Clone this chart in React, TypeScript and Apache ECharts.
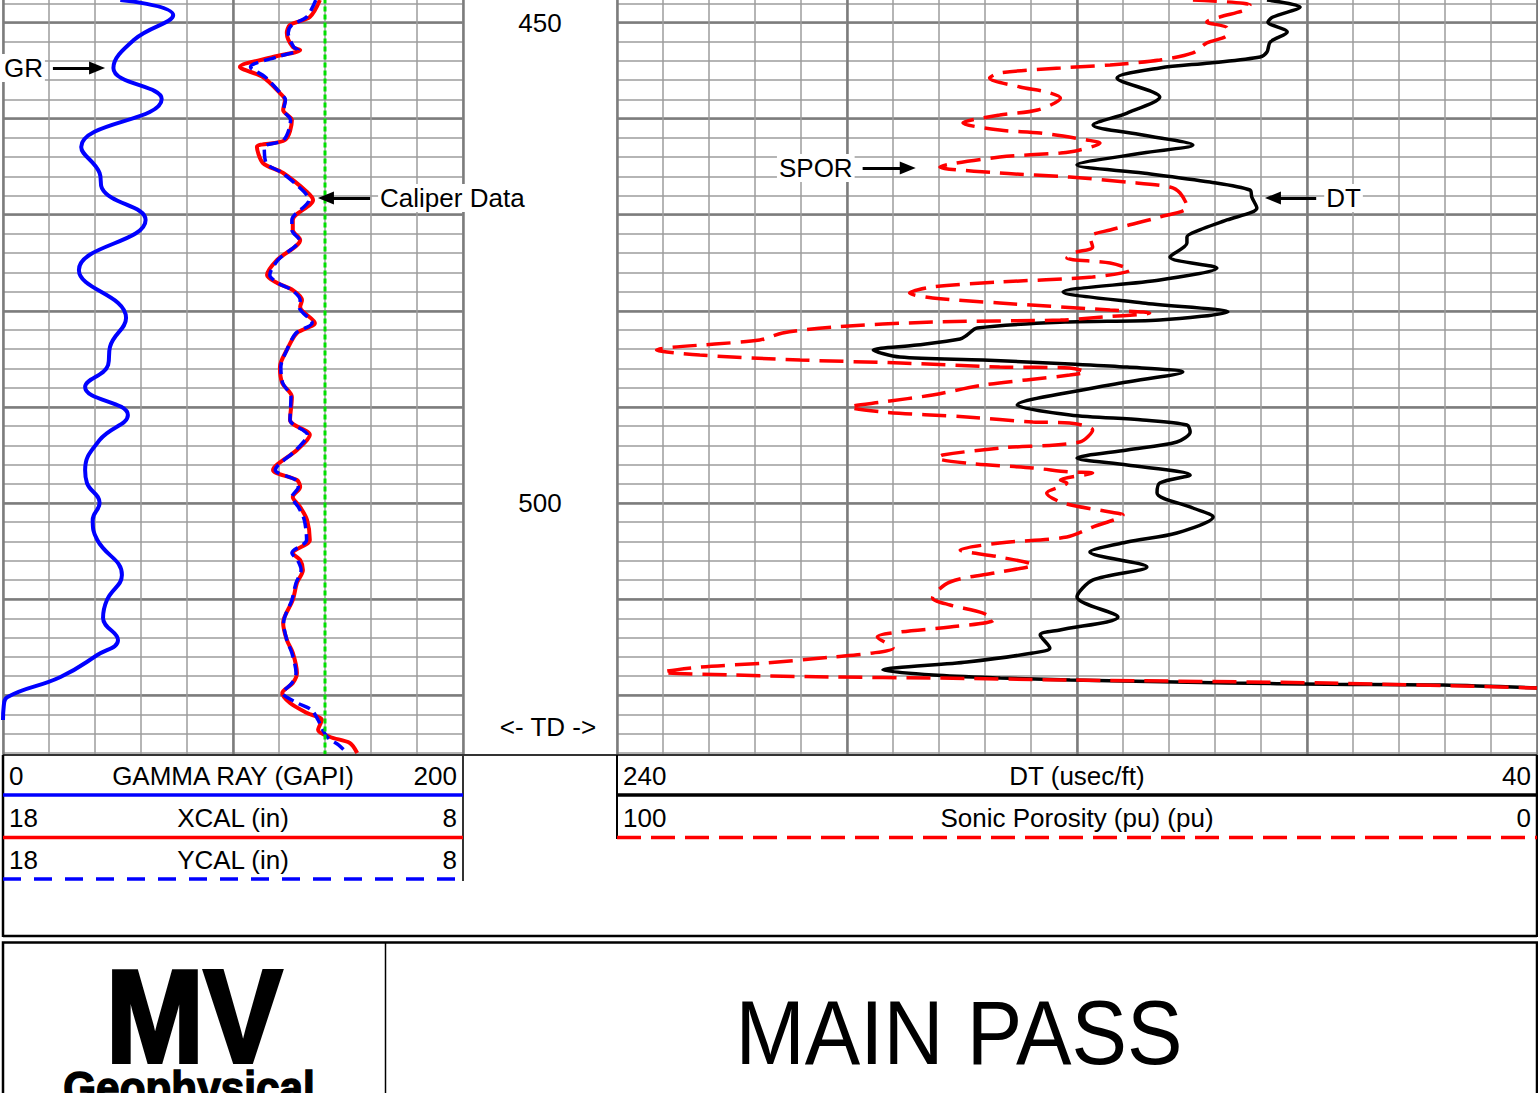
import React, { useEffect, useRef } from "react";
import * as echarts from "echarts";

const FONT = '"Liberation Sans", Arial, Helvetica, sans-serif';

// ---------- scales / ticks ----------
const depthRange = [440, 530];
const depthLabels = [450, 500];
const depthTD = 523.3;
const bitSize = 11;
const grScale = [0, 200];
const calScale = [18, 8];
const dtScale = [240, 40];
const sporScale = [100, 0];

// ---------- curves: [depth (ft), value] ----------
const grCurve = [
  [447.66, 51], [449.22, 74], [451.8, 57], [454.73, 48], [457.96, 69], [462.96, 34],
  [465.66, 42], [467.23, 43], [470.55, 62], [475.75, 33], [480.75, 53.5], [483.77, 46.5],
  [485.64, 45.7], [487.93, 35.7], [490.84, 54.3], [493.45, 42], [496.57, 35.7], [497.92, 36.5],
  [500.0, 42], [501.77, 39], [503.85, 41], [507.49, 51.7], [510.09, 45.2], [511.96, 43.5],
  [514.25, 50], [515.82, 41], [518.11, 25], [520.19, 2], [521.2, 0.3], [522.58, 0],
];

const xcalCurve = [
  [447.66, 11.11], [449.43, 11.33], [450.26, 11.76], [451.09, 11.83], [452.55, 11.7], [452.86, 11.54],
  [453.59, 12.13], [454.63, 12.85], [455.67, 12.35], [457.34, 11.98], [458.06, 11.87], [459.11, 11.91],
  [460.15, 11.72], [462.23, 11.87], [462.96, 12.48], [464.62, 12.35], [465.66, 11.91], [467.64, 11.39],
  [468.47, 11.26], [470.55, 11.7], [471.59, 11.7], [472.63, 11.54], [474.71, 12.04], [476.27, 12.26],
  [477.11, 12.04], [477.84, 11.7], [478.88, 11.5], [479.6, 11.54], [481.27, 11.22], [482.31, 11.61],
  [484.08, 11.83], [485.85, 11.98], [487.51, 11.93], [488.97, 11.72], [491.36, 11.76], [492.92, 11.33],
  [494.48, 11.61], [496.57, 12.13], [497.61, 11.61], [498.33, 11.54], [499.38, 11.7], [500.42, 11.54],
  [501.77, 11.39], [503.85, 11.33], [505.2, 11.7], [505.93, 11.54], [506.97, 11.48], [508.32, 11.61],
  [510.09, 11.7], [512.48, 11.91], [514.25, 11.83], [515.6, 11.7], [517.69, 11.61], [518.73, 11.7],
  [519.77, 11.93], [520.81, 11.76], [521.85, 11.39], [522.58, 11.07], [523.62, 11.15], [524.35, 10.89],
  [524.97, 10.46], [526.01, 10.3],
];

const ycalCurve = [
  [447.66, 11.2], [449.43, 11.4], [450.26, 11.72], [451.09, 11.8], [452.55, 11.68], [452.86, 11.58],
  [453.59, 12.05], [454.63, 12.62], [455.67, 12.3], [457.34, 11.97], [458.06, 11.86], [459.11, 11.9],
  [460.15, 11.75], [462.23, 11.9], [462.96, 12.32], [464.62, 12.28], [465.66, 11.93], [467.64, 11.45],
  [468.47, 11.35], [470.55, 11.72], [471.59, 11.72], [472.63, 11.56], [474.71, 12.02], [476.27, 12.2],
  [477.11, 12.02], [477.84, 11.72], [478.88, 11.54], [479.6, 11.56], [481.27, 11.28], [482.31, 11.63],
  [484.08, 11.83], [485.85, 11.96], [487.51, 11.92], [488.97, 11.74], [491.36, 11.76], [492.92, 11.38],
  [494.48, 11.63], [496.57, 12.08], [497.61, 11.63], [498.33, 11.58], [499.38, 11.72], [500.42, 11.58],
  [501.77, 11.45], [503.85, 11.4], [505.2, 11.72], [505.93, 11.6], [506.97, 11.52], [508.32, 11.63],
  [510.09, 11.72], [512.48, 11.9], [514.25, 11.83], [515.6, 11.72], [517.69, 11.63], [518.73, 11.72],
  [519.77, 11.92], [520.81, 11.6], [521.5, 11.3], [522.58, 11.15], [523.62, 11.05], [524.45, 10.93],
  [525.2, 10.7], [526.1, 10.5],
];

const dtCurve = [
  [447.66, 98.7], [448.39, 91.5], [449.43, 97.4], [449.95, 98.5], [450.99, 94.3], [452.03, 98.0],
  [453.07, 98.7], [453.59, 100.2], [454.21, 111.1], [454.73, 122.0], [455.78, 131.3], [457.75, 122.0],
  [459.42, 129.1], [460.67, 136.5], [461.71, 125.7], [462.75, 114.8], [463.58, 125.7], [464.83, 140.0],
  [465.66, 125.7], [466.6, 111.1], [467.43, 102.4], [468.16, 102.0], [469.3, 100.9], [470.55, 107.4],
  [471.59, 113.3], [472.32, 116.1], [472.94, 116.1], [474.4, 119.8], [475.55, 109.6], [476.79, 122.0],
  [478.04, 143.0], [479.19, 125.7], [480.12, 107.2], [480.96, 122.0], [481.17, 142.6], [481.79, 161.7],
  [482.52, 163.9], [482.93, 165.4], [483.56, 174.8], [484.08, 184.3], [484.81, 178.5], [485.12, 160.4],
  [485.54, 141.5], [485.85, 129.1], [486.37, 117.0], [487.41, 129.1], [488.03, 136.5], [489.8, 153.0],
  [490.84, 141.5], [491.36, 125.7], [491.88, 116.1], [492.61, 115.4], [493.65, 118.3], [494.48, 129.1],
  [495.32, 140.0], [496.05, 129.1], [497.09, 115.4], [497.92, 122.0], [498.96, 122.6], [500.52, 114.8],
  [501.46, 110.4], [503.12, 118.3], [504.06, 129.1], [505.1, 137.2], [506.66, 124.8], [508.01, 136.5],
  [509.78, 140.0], [511.86, 131.1], [513.21, 143.7], [513.73, 148.0], [515.08, 145.9], [515.61, 149.6],
  [516.54, 163.9], [517.38, 182.2], [517.9, 171.3], [518.21, 156.7], [518.42, 141.5], [518.73, 107.4],
  [518.85, 85.7], [518.94, 60.4], [519.25, 40],
];

const sporCurve = [
  [447.66, 37.4], [448.18, 31.2], [448.7, 31.7], [449.43, 34.5], [449.95, 35.9], [450.57, 33.7],
  [451.3, 33.7], [452.13, 35.9], [453.17, 37.4], [453.9, 41.0], [454.42, 46.4], [454.73, 51.8],
  [455.25, 58.4], [455.78, 59.5], [456.71, 56.2], [457.23, 53.3], [457.86, 51.8], [459.11, 54.3],
  [459.63, 58.4], [460.46, 62.4], [461.19, 58.4], [461.5, 54.0], [462.23, 48.9], [462.54, 47.5],
  [463.27, 49.7], [463.58, 51.8], [464.0, 58.4], [465.04, 64.9], [465.66, 58.4], [466.08, 50.8],
  [466.6, 44.6], [467.12, 39.9], [467.74, 38.8], [469.2, 38.0], [470.24, 41.0], [471.59, 46.4],
  [472.32, 48.6], [473.36, 48.3], [473.99, 50.4], [474.51, 51.1], [475.03, 46.4], [475.75, 44.2],
  [476.48, 48.3], [477.0, 58.4], [477.52, 65.7], [478.15, 68.2], [478.67, 65.7], [479.19, 58.4],
  [479.92, 46.4], [480.23, 42.1], [480.65, 47.2], [480.96, 51.8], [481.17, 65.7], [481.69, 76.5],
  [482.31, 82.0], [483.04, 84.5], [484.08, 95.7], [484.6, 91.0], [485.12, 80.1], [485.43, 69.2],
  [485.85, 58.4], [485.95, 50.8], [486.37, 49.1], [486.69, 50.8], [487.73, 60.2], [488.76, 65.7],
  [489.49, 71.1], [490.01, 74.7], [490.53, 71.1], [491.05, 62.0], [491.57, 54.8], [491.68, 50.8],
  [492.4, 48.3], [493.65, 49.7], [494.28, 58.4], [495.0, 64.6], [495.32, 65.2], [495.84, 62.0],
  [496.36, 54.8], [496.77, 50.8], [496.88, 48.3], [497.61, 51.8], [497.92, 51.1], [498.96, 53.3],
  [500.0, 51.5], [500.94, 46.4], [501.25, 45.0], [502.5, 48.3], [503.54, 51.1], [504.16, 58.4],
  [504.89, 62.7], [505.62, 58.4], [506.45, 54.8], [507.18, 58.4], [508.22, 63.8], [509.88, 65.7],
  [510.61, 63.8], [511.45, 60.2], [512.18, 59.1], [512.9, 63.8], [513.42, 69.2], [513.94, 71.7],
  [515.08, 70.0], [515.61, 72.2], [516.02, 76.5], [516.65, 83.7], [517.07, 91.0], [517.59, 95.0],
  [517.9, 87.4], [518.11, 76.5], [518.21, 65.7], [518.42, 50.8], [518.73, 22.8], [519.25, 0],
];

// ---------- annotation arrows: [label, depth, from value, to value] ----------
const grArrow = ["GR", 454.73, 21.7, 40.9];
const calArrow = ["Caliper Data", 468.26, 10.02, 10.98];
const sporArrow = ["SPOR", 465.14, 73.3, 68.4];
const dtArrow = ["DT", 468.26, 88.0, 97.4];

// ---------- header rows ----------
const leftHeader = [
  { name: "GAMMA RAY (GAPI)", lo: String(grScale[0]), hi: String(grScale[1]), color: "#0000ff", dash: null },
  { name: "XCAL (in)", lo: String(calScale[0]), hi: String(calScale[1]), color: "#ff0000", dash: null },
  { name: "YCAL (in)", lo: String(calScale[0]), hi: String(calScale[1]), color: "#0000ff", dash: [18, 13] },
];
const rightHeader = [
  { name: "DT (usec/ft)", lo: String(dtScale[0]), hi: String(dtScale[1]), color: "#000000", dash: null },
  { name: "Sonic Porosity (pu) (pu)", lo: String(sporScale[0]), hi: String(sporScale[1]), color: "#ff0000", dash: [24, 10] },
];
const passTitle = "MAIN PASS";

// ---------- layout ----------
const OFF = 90; // chart canvas starts OFF px above the page top
const Y = (y: number) => y + OFF;
const Y450 = 22.5;
const PXFT = 9.61;
const gridTop = Y(Y450 - (450 - depthRange[0]) * PXFT);
const gridH = (depthRange[1] - depthRange[0]) * PXFT;
const L = { x: 3, w: 460 };
const D = { x: 463, w: 154 };
const R = { x: 617, w: 920 };
const TB = 755;

const arrowML = (a: any[]) => ({
  silent: true,
  symbol: ["none", "triangle"],
  symbolSize: [13, 16],
  itemStyle: { color: "#000" },
  lineStyle: { color: "#000", width: 3, type: "solid" },
  label: {
    show: true,
    position: "start",
    formatter: a[0],
    color: "#000",
    fontSize: 26,
    fontFamily: FONT,
    distance: 8,
    backgroundColor: "#fff",
    padding: [1, 2],
  },
  emphasis: { disabled: true },
  data: [[{ coord: [a[2], a[1]] }, { coord: [a[3], a[1]] }]],
});

const minorStyle = { color: "#9c9c9c", width: 1.5 };
const majorStyle = { color: "#7c7c7c", width: 2.5 };

const divX = (gridIndex: number, max: number, interval: number, major: boolean) => ({
  gridIndex, type: "value", min: 0, max, interval,
  axisLine: { show: false }, axisTick: { show: false }, axisLabel: { show: false },
  splitLine: { show: true, lineStyle: major ? majorStyle : minorStyle },
});
const divY = (gridIndex: number, interval: number, major: boolean) => ({
  gridIndex, type: "value", min: depthRange[0], max: depthRange[1], interval, inverse: true,
  axisLine: { show: false }, axisTick: { show: false }, axisLabel: { show: false },
  splitLine: { show: true, lineStyle: major ? majorStyle : minorStyle },
});

const swap = (arr: number[][]) => arr.map((p) => [p[1], p[0]]);

function headerGraphics() {
  const g: any[] = [];
  const txt = (x: number, y: number, text: string, align: string, size = 26) => ({
    type: "text", x, y: Y(y), z: 110,
    style: { text, fill: "#000", fontSize: size, fontFamily: FONT, align, verticalAlign: "middle" },
  });
  const rowY = [776, 818, 860];
  const lineY = [795, 837.5, 879];
  leftHeader.forEach((h, i) => {
    g.push(txt(L.x + 6, rowY[i], h.lo, "left"));
    g.push(txt(L.x + L.w / 2, rowY[i], h.name, "center"));
    g.push(txt(L.x + L.w - 6, rowY[i], h.hi, "right"));
    g.push({ type: "line", z: 110, shape: { x1: L.x, y1: Y(lineY[i]), x2: L.x + L.w, y2: Y(lineY[i]) },
      style: { stroke: h.color, lineWidth: 3.5, lineDash: h.dash || undefined } });
  });
  rightHeader.forEach((h, i) => {
    g.push(txt(R.x + 6, rowY[i], h.lo, "left"));
    g.push(txt(R.x + R.w / 2, rowY[i], h.name, "center"));
    g.push(txt(R.x + R.w - 6, rowY[i], h.hi, "right"));
    g.push({ type: "line", z: 110, shape: { x1: R.x, y1: Y(lineY[i]), x2: R.x + R.w, y2: Y(lineY[i]) },
      style: { stroke: h.color, lineWidth: 3.5, lineDash: h.dash || undefined } });
  });
  return g;
}

const hline = (x1: number, x2: number, y: number, stroke: string, w: number) => ({
  type: "line", z: 110, shape: { x1, y1: Y(y), x2, y2: Y(y) }, style: { stroke, lineWidth: w },
});
const vline = (x: number, y1: number, y2: number, stroke: string, w: number) => ({
  type: "line", z: 110, shape: { x1: x, y1: Y(y1), x2: x, y2: Y(y2) }, style: { stroke, lineWidth: w },
});

export default function App() {
  const ref = useRef<HTMLDivElement>(null);
  useEffect(() => {
    if (!ref.current) return;
    const chart = echarts.init(ref.current, undefined, { renderer: "svg" });
    const option: any = {
      animation: false,
      backgroundColor: "#fff",
      grid: [
        { left: L.x, top: gridTop, width: L.w, height: gridH },
        { left: R.x, top: gridTop, width: R.w, height: gridH },
        { left: D.x, top: gridTop, width: D.w, height: gridH },
      ],
      xAxis: [
        divX(0, 10, 1, false),
        divX(0, 10, 5, true),
        { gridIndex: 0, type: "value", min: grScale[0], max: grScale[1], show: false },
        { gridIndex: 0, type: "value", min: calScale[1], max: calScale[0], inverse: true, show: false },
        divX(1, 20, 1, false),
        divX(1, 20, 5, true),
        { gridIndex: 1, type: "value", min: dtScale[1], max: dtScale[0], inverse: true, show: false },
        { gridIndex: 1, type: "value", min: sporScale[1], max: sporScale[0], inverse: true, show: false },
        { gridIndex: 2, type: "value", min: 0, max: 1, show: false },
      ],
      yAxis: [
        divY(0, 2, false),
        divY(0, 10, true),
        divY(1, 2, false),
        divY(1, 10, true),
        {
          gridIndex: 2, type: "value", min: depthRange[0], max: depthRange[1], interval: 10, inverse: true,
          axisLine: { show: false }, axisTick: { show: false }, splitLine: { show: false },
          axisLabel: {
            show: true, inside: true, margin: 77, align: "center", fontSize: 26, color: "#000", fontFamily: FONT,
            formatter: (v: number) => (depthLabels.includes(v) ? String(v) : ""),
          },
        },
      ],
      series: [
        {
          type: "line", name: "GR", xAxisIndex: 2, yAxisIndex: 0, data: swap(grCurve),
          showSymbol: false, symbol: "none", smooth: 0.45,
          lineStyle: { color: "#0000ff", width: 4 },
          markLine: arrowML(grArrow),
        },
        {
          type: "line", name: "XCAL", xAxisIndex: 3, yAxisIndex: 0, data: swap(xcalCurve),
          showSymbol: false, symbol: "none", smooth: 0.3,
          lineStyle: { color: "#ff0000", width: 4 },
          markLine: arrowML(calArrow),
        },
        {
          type: "line", name: "YCAL", xAxisIndex: 3, yAxisIndex: 0, data: swap(ycalCurve),
          showSymbol: false, symbol: "none", smooth: 0.3,
          lineStyle: { color: "#0000ff", width: 3.5, type: [12, 6] },
        },
        {
          type: "line", name: "BS", xAxisIndex: 3, yAxisIndex: 0,
          data: [[bitSize, depthRange[0]], [bitSize, depthRange[1]]],
          showSymbol: false, symbol: "none",
          lineStyle: { color: "#00e000", width: 3, type: [5, 3] },
        },
        {
          type: "line", name: "DT", xAxisIndex: 6, yAxisIndex: 2, data: swap(dtCurve),
          showSymbol: false, symbol: "none", smooth: 0.3,
          lineStyle: { color: "#000000", width: 3.5 },
          markLine: arrowML(dtArrow),
        },
        {
          type: "line", name: "SPOR", xAxisIndex: 7, yAxisIndex: 2, data: swap(sporCurve),
          showSymbol: false, symbol: "none", smooth: 0.3,
          lineStyle: { color: "#ff0000", width: 3.5, type: [24, 10] },
          markLine: arrowML(sporArrow),
        },
      ],
      graphic: [
        { type: "rect", z: 100, shape: { x: 0, y: Y(TB + 1), width: 1538, height: 1093 - TB + 50 }, style: { fill: "#fff" } },
        { type: "text", z: 110, x: D.x + D.w / 2 + 8, y: Y(Y450 + (depthTD - 450) * PXFT),
          style: { text: "<- TD ->", fill: "#000", fontSize: 26, fontFamily: FONT, align: "center", verticalAlign: "middle" } },
        // header frame
        hline(3, 1537, TB, "#333", 2),
        vline(3, TB, 937, "#000", 2.5),
        vline(1537, TB, 937, "#000", 2.5),
        hline(3, 1537, 936, "#000", 2.5),
        vline(463, TB, 881, "#333", 2),
        vline(617, TB, 839, "#000", 2),
        ...headerGraphics(),
        // title box
        { type: "rect", z: 110, shape: { x: 3, y: Y(942.5), width: 1534, height: 200 }, style: { fill: "none", stroke: "#000", lineWidth: 2.5 } },
        vline(385.5, 942, 1093, "#000", 1.5),
        { type: "text", z: 110, x: 194, y: Y(1016), scaleX: 0.89,
          style: { text: "MV", fill: "#000", stroke: "#000", lineWidth: 4, fontSize: 132, fontWeight: "bold", fontFamily: FONT, align: "center", verticalAlign: "middle" } },
        { type: "text", z: 110, x: 189, y: Y(1065), scaleX: 0.92,
          style: { text: "Geophysical", fill: "#000", stroke: "#000", lineWidth: 1.5, fontSize: 46, fontWeight: "bold", fontFamily: FONT, align: "center", verticalAlign: "top" } },
        { type: "text", z: 110, x: 959, y: Y(1033), scaleX: 0.925,
          style: { text: passTitle, fill: "#000", fontSize: 90, fontFamily: FONT, align: "center", verticalAlign: "middle" } },
      ],
    };
    chart.setOption(option);
    return () => chart.dispose();
  }, []);
  return (
    <div style={{ position: "absolute", left: 0, top: 0, width: 1538, height: 1093, overflow: "hidden", background: "#fff" }}>
      <div
        ref={ref}
        style={{ position: "absolute", left: 0, top: -OFF, width: 1538, height: 1093 + OFF }}
      />
    </div>
  );
}
